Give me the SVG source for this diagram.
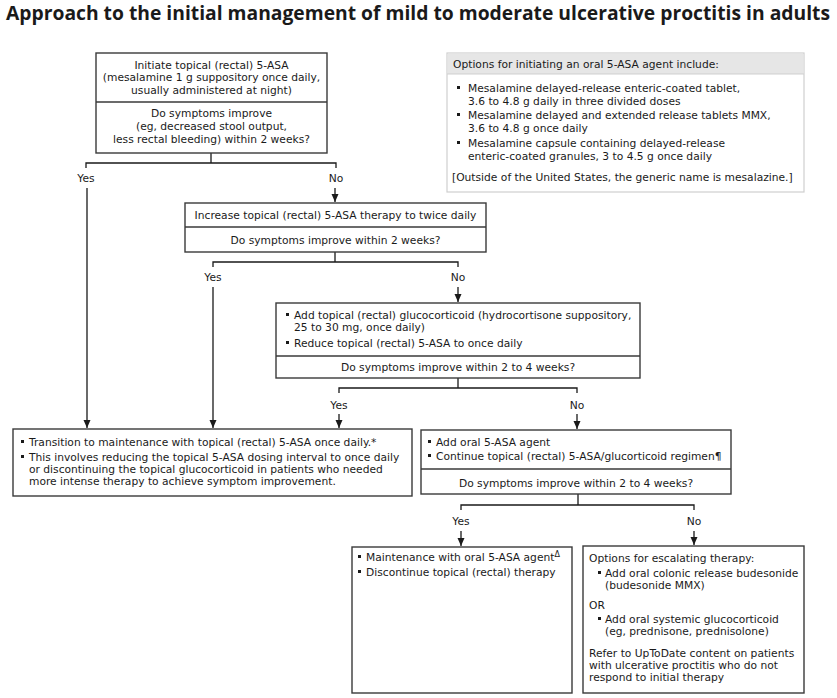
<svg xmlns="http://www.w3.org/2000/svg" width="837" height="698" viewBox="0 0 837 698">
<defs>
<style>
.t{font-family:"DejaVu Sans",Verdana,sans-serif;font-size:10.7px;fill:#1a1a1a}
.c{text-anchor:middle}
.box{fill:#fff;stroke:#3a3a3a;stroke-width:1.4}
.div{stroke:#3a3a3a;stroke-width:1.4}
.ln{fill:none;stroke:#1a1a1a;stroke-width:1.3}
.b{fill:#1a1a1a}
.title{font-family:"Open Sans","Noto Sans",sans-serif;font-weight:bold;font-size:19px;fill:#1a1a1a}
</style>
<marker id="ah" viewBox="0 0 8 8" refX="8" refY="4" markerWidth="8" markerHeight="8" markerUnits="userSpaceOnUse" orient="auto">
<path d="M0,0.5 L8,4 L0,7.5 Z" fill="#1a1a1a"/>
</marker>
</defs>
<rect width="837" height="698" fill="#fff"/>
<text class="title" x="6" y="20" textLength="824" lengthAdjust="spacingAndGlyphs">Approach to the initial management of mild to moderate ulcerative proctitis in adults</text>

<g id="connectors">
<path class="ln" d="M211,153 V163 M86,168 V163 H336 V168"/>
<text class="t c" x="86" y="182">Yes</text>
<text class="t c" x="336" y="182">No</text>
<path class="ln" d="M87,188 V428" marker-end="url(#ah)"/>
<path class="ln" d="M335,188 V202" marker-end="url(#ah)"/>
<path class="ln" d="M335,252 V262 M213,267 V262 H458 V267"/>
<text class="t c" x="213" y="281">Yes</text>
<text class="t c" x="458" y="281">No</text>
<path class="ln" d="M213,287 V428" marker-end="url(#ah)"/>
<path class="ln" d="M458,287 V302" marker-end="url(#ah)"/>
<path class="ln" d="M458,378 V388 M339,393 V388 H577 V393"/>
<text class="t c" x="339" y="409">Yes</text>
<text class="t c" x="577" y="409">No</text>
<path class="ln" d="M339,414 V428" marker-end="url(#ah)"/>
<path class="ln" d="M577,414 V429" marker-end="url(#ah)"/>
<path class="ln" d="M578,494 V505 M461,510 V505 H694 V510"/>
<text class="t c" x="461" y="525">Yes</text>
<text class="t c" x="694" y="525">No</text>
<path class="ln" d="M461,531 V546" marker-end="url(#ah)"/>
<path class="ln" d="M694,531 V545" marker-end="url(#ah)"/>
</g>

<g id="n1">
<rect class="box" x="96" y="53" width="231" height="100"/>
<line class="div" x1="96" y1="102" x2="327" y2="102"/>
<text class="t c" x="211.5" y="68.5">Initiate topical (rectal) 5-ASA</text>
<text class="t c" x="211.5" y="81">(mesalamine 1 g suppository once daily,</text>
<text class="t c" x="211.5" y="93.5">usually administered at night)</text>
<text class="t c" x="211.5" y="117">Do symptoms improve</text>
<text class="t c" x="211.5" y="130">(eg, decreased stool output,</text>
<text class="t c" x="211.5" y="143">less rectal bleeding) within 2 weeks?</text>
</g>

<g id="options">
<rect x="447" y="53" width="357" height="139" fill="#fff" stroke="#cfcfcf" stroke-width="1.2"/>
<rect x="447.6" y="53.6" width="355.8" height="20.4" fill="#e6e6e6"/>
<line x1="447" y1="74" x2="804" y2="74" stroke="#cfcfcf" stroke-width="1"/>
<text class="t" x="453" y="68">Options for initiating an oral 5-ASA agent include:</text>
<rect class="b" x="457" y="86" width="3" height="3"/>
<text class="t" x="468" y="91.5">Mesalamine delayed-release enteric-coated tablet,</text>
<text class="t" x="468" y="104.5">3.6 to 4.8 g daily in three divided doses</text>
<rect class="b" x="457" y="113" width="3" height="3"/>
<text class="t" x="468" y="118.5">Mesalamine delayed and extended release tablets MMX,</text>
<text class="t" x="468" y="132">3.6 to 4.8 g once daily</text>
<rect class="b" x="457" y="141" width="3" height="3"/>
<text class="t" x="468" y="146.5">Mesalamine capsule containing delayed-release</text>
<text class="t" x="468" y="160">enteric-coated granules, 3 to 4.5 g once daily</text>
<text class="t" x="452" y="181">[Outside of the United States, the generic name is mesalazine.]</text>
</g>

<g id="n2">
<rect class="box" x="185" y="203" width="301" height="49"/>
<line class="div" x1="185" y1="227" x2="486" y2="227"/>
<text class="t c" x="335.5" y="219">Increase topical (rectal) 5-ASA therapy to twice daily</text>
<text class="t c" x="335.5" y="243.5">Do symptoms improve within 2 weeks?</text>
</g>

<g id="n3">
<rect class="box" x="276" y="303" width="364" height="75"/>
<line class="div" x1="276" y1="356" x2="640" y2="356"/>
<rect class="b" x="286" y="313" width="3" height="3"/>
<text class="t" x="294" y="319">Add topical (rectal) glucocorticoid (hydrocortisone suppository,</text>
<text class="t" x="294" y="330.5">25 to 30 mg, once daily)</text>
<rect class="b" x="286" y="341" width="3" height="3"/>
<text class="t" x="294" y="346.5">Reduce topical (rectal) 5-ASA to once daily</text>
<text class="t c" x="458" y="371">Do symptoms improve within 2 to 4 weeks?</text>
</g>

<g id="n4">
<rect class="box" x="13" y="429" width="399" height="67"/>
<rect class="b" x="21" y="440" width="3" height="3"/>
<text class="t" x="29" y="445.5">Transition to maintenance with topical (rectal) 5-ASA once daily.*</text>
<rect class="b" x="21" y="455" width="3" height="3"/>
<text class="t" x="29" y="461">This involves reducing the topical 5-ASA dosing interval to once daily</text>
<text class="t" x="29" y="473">or discontinuing the topical glucocorticoid in patients who needed</text>
<text class="t" x="29" y="485">more intense therapy to achieve symptom improvement.</text>
</g>

<g id="n5">
<rect class="box" x="421" y="430" width="310" height="64"/>
<line class="div" x1="421" y1="469" x2="731" y2="469"/>
<rect class="b" x="428" y="440" width="3" height="3"/>
<text class="t" x="436" y="446">Add oral 5-ASA agent</text>
<rect class="b" x="428" y="454" width="3" height="3"/>
<text class="t" x="436" y="460">Continue topical (rectal) 5-ASA/glucorticoid regimen¶</text>
<text class="t c" x="576" y="486.5">Do symptoms improve within 2 to 4 weeks?</text>
</g>

<g id="n6">
<rect class="box" x="352" y="547" width="220" height="146"/>
<rect class="b" x="358" y="555" width="3" height="3"/>
<text class="t" x="366" y="561">Maintenance with oral 5-ASA agent<tspan font-size="8" dy="-4">Δ</tspan></text>
<rect class="b" x="358" y="570" width="3" height="3"/>
<text class="t" x="366" y="576">Discontinue topical (rectal) therapy</text>
</g>

<g id="n7">
<rect class="box" x="583" y="546" width="221" height="147"/>
<text class="t" x="589" y="562">Options for escalating therapy:</text>
<rect class="b" x="598" y="571" width="3" height="3"/>
<text class="t" x="605" y="577">Add oral colonic release budesonide</text>
<text class="t" x="605" y="588.5">(budesonide MMX)</text>
<text class="t" x="589" y="609">OR</text>
<rect class="b" x="598" y="617" width="3" height="3"/>
<text class="t" x="605" y="623">Add oral systemic glucocorticoid</text>
<text class="t" x="605" y="635">(eg, prednisone, prednisolone)</text>
<text class="t" x="589" y="657">Refer to UpToDate content on patients</text>
<text class="t" x="589" y="669">with ulcerative proctitis who do not</text>
<text class="t" x="589" y="680.5">respond to initial therapy</text>
</g>
</svg>
